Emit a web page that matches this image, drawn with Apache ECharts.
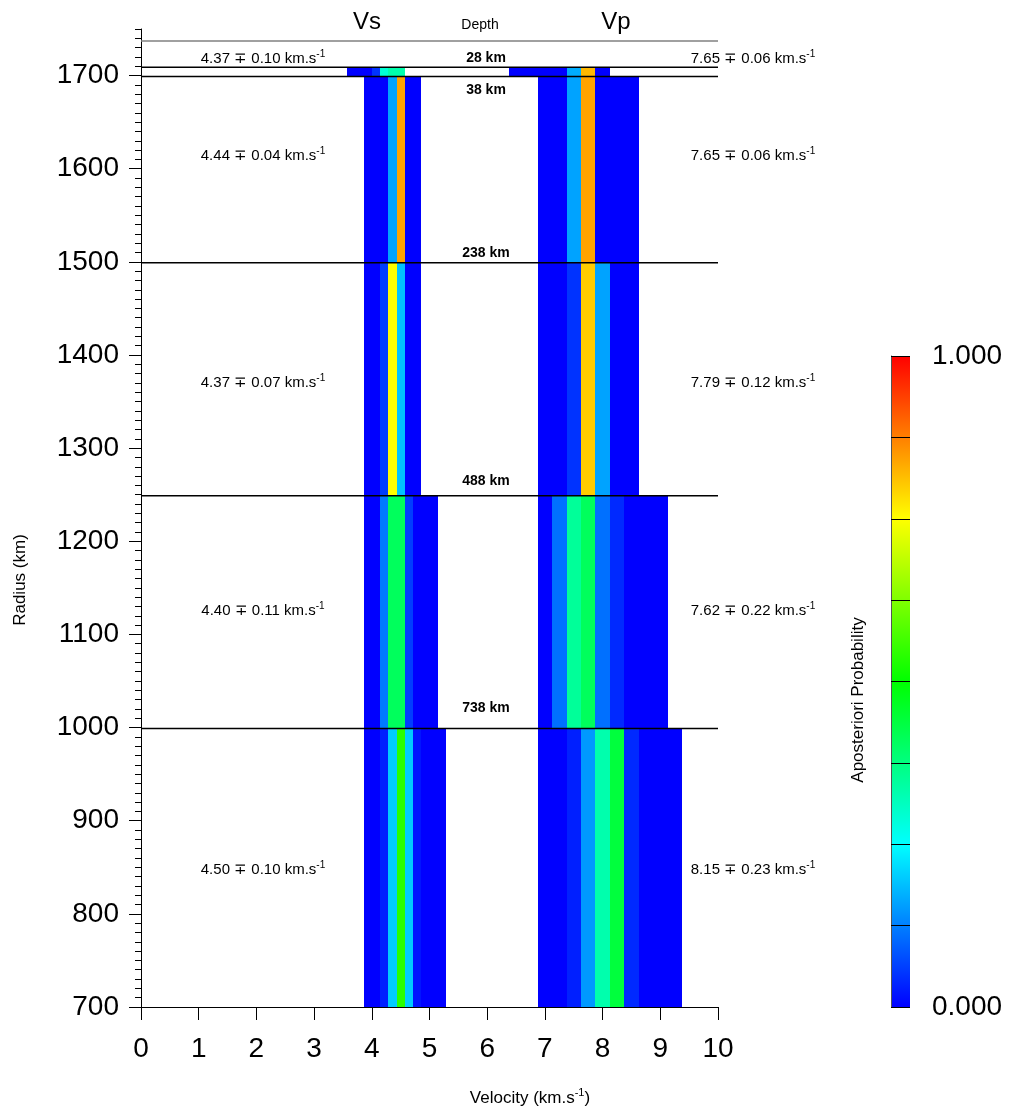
<!DOCTYPE html>
<html>
<head>
<meta charset="utf-8">
<script src="https://cdn.jsdelivr.net/npm/echarts@6/dist/echarts.min.js"></script>
<style>
html,body{margin:0;padding:0;background:#fff;}
#chart{width:1010px;height:1115px;}
</style>
</head>
<body>
<div id="chart"></div>
<script>
// ---------------- DATA ----------------
const palette = ['#0000ff', '#00ffff', '#00ff00', '#ffff00', '#ff0000'];

const surfaceRadius = 1737;
const boundaryRadius = [1709, 1699, 1499, 1249, 999];
const depthLabels = ['28 km', '38 km', '238 km', '488 km', '738 km'];

const layerTop = [1709, 1699, 1499, 1249, 999];
const layerBottom = [1699, 1499, 1249, 999, 700];

const vsEdges = [3.571, 3.714, 3.857, 4.000, 4.143, 4.286, 4.429, 4.571, 4.714, 4.857, 5.000, 5.143, 5.286];
const vpEdges = [6.375, 6.625, 6.875, 7.125, 7.375, 7.625, 7.875, 8.125, 8.375, 8.625, 8.875, 9.125, 9.375];

const vsFirstBin = [0, 2, 2, 2, 2];
const vsProb = [
  [0, 0, 0, 0.05, 0.29, 0.33, 0.33],
  [0, 0, 0, 0.16, 0.84, 0, 0],
  [0, 0, 0.06, 0.75, 0.19, 0, 0],
  [0, 0, 0.12, 0.41, 0.41, 0.06, 0, 0, 0],
  [0, 0, 0.03, 0.20, 0.54, 0.20, 0.02, 0, 0, 0]
];

const vpFirstBin = [0, 2, 2, 2, 2];
const vpProb = [
  [0, 0, 0, 0, 0.17, 0.82, 0],
  [0, 0, 0.16, 0.84, 0, 0, 0],
  [0, 0, 0.05, 0.80, 0.16, 0, 0],
  [0, 0.11, 0.35, 0.41, 0.11, 0.04, 0, 0, 0],
  [0, 0, 0.03, 0.15, 0.33, 0.44, 0.04, 0, 0, 0]
];

const vsMean = ['4.37', '4.44', '4.37', '4.40', '4.50'];
const vsStd  = ['0.10', '0.04', '0.07', '0.11', '0.10'];
const vpMean = ['7.65', '7.65', '7.79', '7.62', '8.15'];
const vpStd  = ['0.06', '0.06', '0.12', '0.22', '0.23'];

const yTicks = [700, 800, 900, 1000, 1100, 1200, 1300, 1400, 1500, 1600, 1700];
const cbTicks = [0, 1];

// ---------------- BUILD ----------------
function buildCells(edges, firstBin, probs) {
  const out = [];
  probs.forEach((row, i) => {
    row.forEach((p, j) => {
      const k = firstBin[i] + j;
      out.push([edges[k], edges[k + 1], layerBottom[i], layerTop[i], p]);
    });
  });
  return out;
}
const cells = buildCells(vsEdges, vsFirstBin, vsProb).concat(buildCells(vpEdges, vpFirstBin, vpProb));

const FONT = '"Liberation Sans", Arial, sans-serif';

function cellRender(params, api) {
  const a = api.coord([api.value(0), api.value(3)]);
  const b = api.coord([api.value(1), api.value(2)]);
  const x0 = Math.round(a[0]), x1 = Math.round(b[0]);
  const y0 = Math.round(a[1]), y1 = Math.round(b[1]);
  return {
    type: 'rect',
    shape: { x: x0, y: y0, width: x1 - x0, height: y1 - y0 },
    style: { fill: api.visual('color'), stroke: null }
  };
}

function lineRender(color) {
  return function (params, api) {
    const a = api.coord([0, api.value(0)]);
    const b = api.coord([10, api.value(0)]);
    return {
      type: 'line',
      shape: { x1: a[0], y1: a[1], x2: b[0], y2: b[1] },
      style: { stroke: color, lineWidth: 1.5 }
    };
  };
}

const graphics = [];
function txt(x, y, text, size, opts) {
  graphics.push(Object.assign({
    type: 'text', x: x, y: y, z: 100,
    style: Object.assign({
      text: text, fill: '#000', font: size + 'px ' + FONT,
      textAlign: 'center', textVerticalAlign: 'middle'
    }, (opts && opts.style) || {})
  }, (opts && opts.el) || {}));
}
txt(367, 22, 'Vs', 24);
txt(480, 25, 'Depth', 14);
txt(616, 22, 'Vp', 24);

const depthY = [58, 90, 253, 481, 708];
depthLabels.forEach((d, i) => {
  txt(486, depthY[i], d, 14, { style: { font: 'bold 14px ' + FONT } });
});

const labelY = [58, 155, 382, 610, 869];
function richLabel(x, y, mean, std) {
  graphics.push({
    type: 'text', x: x, y: y, z: 100,
    style: {
      text: '{t|' + mean + ' \u2213 ' + std + ' km.s}{s|-1}',
      textAlign: 'center', textVerticalAlign: 'middle',
      rich: {
        t: { fontSize: 15, fontFamily: FONT, fill: '#000', lineHeight: 17, verticalAlign: 'bottom' },
        s: { fontSize: 10, fontFamily: FONT, fill: '#000', lineHeight: 10, verticalAlign: 'top' }
      }
    }
  });
}
labelY.forEach((y, i) => {
  richLabel(263, y, vsMean[i], vsStd[i]);
  richLabel(753, y, vpMean[i], vpStd[i]);
});

graphics.push({
  type: 'text', x: 20, y: 580, rotation: Math.PI / 2, z: 100,
  style: { text: 'Radius (km)', font: '17px ' + FONT, fill: '#000', textAlign: 'center', textVerticalAlign: 'middle' }
});
graphics.push({
  type: 'text', x: 858, y: 700, rotation: Math.PI / 2, z: 100,
  style: { text: 'Aposteriori Probability', font: '17px ' + FONT, fill: '#000', textAlign: 'center', textVerticalAlign: 'middle' }
});
graphics.push({
  type: 'text', x: 530, y: 1097, z: 100,
  style: {
    text: '{t|Velocity (km.s}{s|-1}{t|)}',
    textAlign: 'center', textVerticalAlign: 'middle',
    rich: {
      t: { fontSize: 17, fontFamily: FONT, fill: '#000', lineHeight: 20, verticalAlign: 'bottom' },
      s: { fontSize: 11, fontFamily: FONT, fill: '#000', lineHeight: 12, verticalAlign: 'top' }
    }
  }
});

const gradStops = palette.map((c, i) => ({ offset: i / (palette.length - 1), color: c }));

const option = {
  animation: false,
  backgroundColor: '#fff',
  textStyle: { fontFamily: FONT },
  grid: [
    { left: 141, top: 29, width: 577, height: 978 },
    { left: 891, top: 356, width: 19, height: 651 }
  ],
  xAxis: [
    {
      gridIndex: 0, type: 'value', min: 0, max: 10, interval: 1,
      axisLine: { show: true, lineStyle: { color: '#000', width: 1 } },
      axisTick: { show: true, length: 13, lineStyle: { color: '#000' } },
      axisLabel: { fontSize: 28, color: '#000', margin: 28, fontFamily: FONT },
      splitLine: { show: false }
    },
    { gridIndex: 1, type: 'value', min: 0, max: 1, show: false }
  ],
  yAxis: [
    {
      gridIndex: 0, type: 'value', position: 'left', min: 700, max: 1750, interval: 10,
      axisLine: { show: true, lineStyle: { color: '#000', width: 1 } },
      axisTick: { show: true, length: 6, lineStyle: { color: '#000' } },
      axisLabel: { show: false },
      splitLine: { show: false }
    },
    {
      gridIndex: 0, type: 'value', position: 'left', min: 700, max: 1750,
      axisLine: { show: false },
      axisTick: { show: true, length: 12, customValues: yTicks, lineStyle: { color: '#000' } },
      axisLabel: {
        fontSize: 28, color: '#000', margin: 22, customValues: yTicks, fontFamily: FONT,
        formatter: v => String(v)
      },
      splitLine: { show: false }
    },
    {
      gridIndex: 1, type: 'value', position: 'right', min: 0, max: 1, interval: 0.125, z: 10,
      axisLine: { show: true, lineStyle: { color: '#555', width: 1 } },
      axisTick: { show: true, length: 10, lineStyle: { color: '#000' } },
      axisLabel: {
        fontSize: 28, color: '#000', margin: 22, fontFamily: FONT,
        customValues: cbTicks,
        formatter: v => v.toFixed(3)
      },
      splitLine: { show: true, lineStyle: { color: '#000', width: 1 } }
    }
  ],
  visualMap: {
    show: false, type: 'continuous', min: 0, max: 1, dimension: 4, seriesIndex: 0,
    inRange: { color: palette }
  },
  graphic: graphics,
  series: [
    {
      type: 'custom', xAxisIndex: 0, yAxisIndex: 0,
      encode: { x: [0, 1], y: [2, 3] },
      renderItem: cellRender, data: cells, z: 2
    },
    {
      type: 'custom', xAxisIndex: 0, yAxisIndex: 0,
      renderItem: lineRender('#000'), data: boundaryRadius.map(r => [r]),
      encode: { y: 0 }, z: 5
    },
    {
      type: 'custom', xAxisIndex: 0, yAxisIndex: 0,
      renderItem: lineRender('#808080'), data: [[surfaceRadius]],
      encode: { y: 0 }, z: 5
    },
    {
      type: 'custom', xAxisIndex: 1, yAxisIndex: 2,
      data: [[0, 0, 1, 1]],
      encode: { x: [0, 2], y: [1, 3] },
      z: 1,
      renderItem: function (params, api) {
        const a = api.coord([api.value(0), api.value(3)]);
        const b = api.coord([api.value(2), api.value(1)]);
        return {
          type: 'rect',
          shape: { x: a[0], y: a[1], width: b[0] - a[0], height: b[1] - a[1] },
          style: { fill: new echarts.graphic.LinearGradient(0, 1, 0, 0, gradStops) }
        };
      }
    }
  ]
};

const chart = echarts.init(document.getElementById('chart'), null, { renderer: 'canvas' });
chart.setOption(option);
</script>
</body>
</html>
